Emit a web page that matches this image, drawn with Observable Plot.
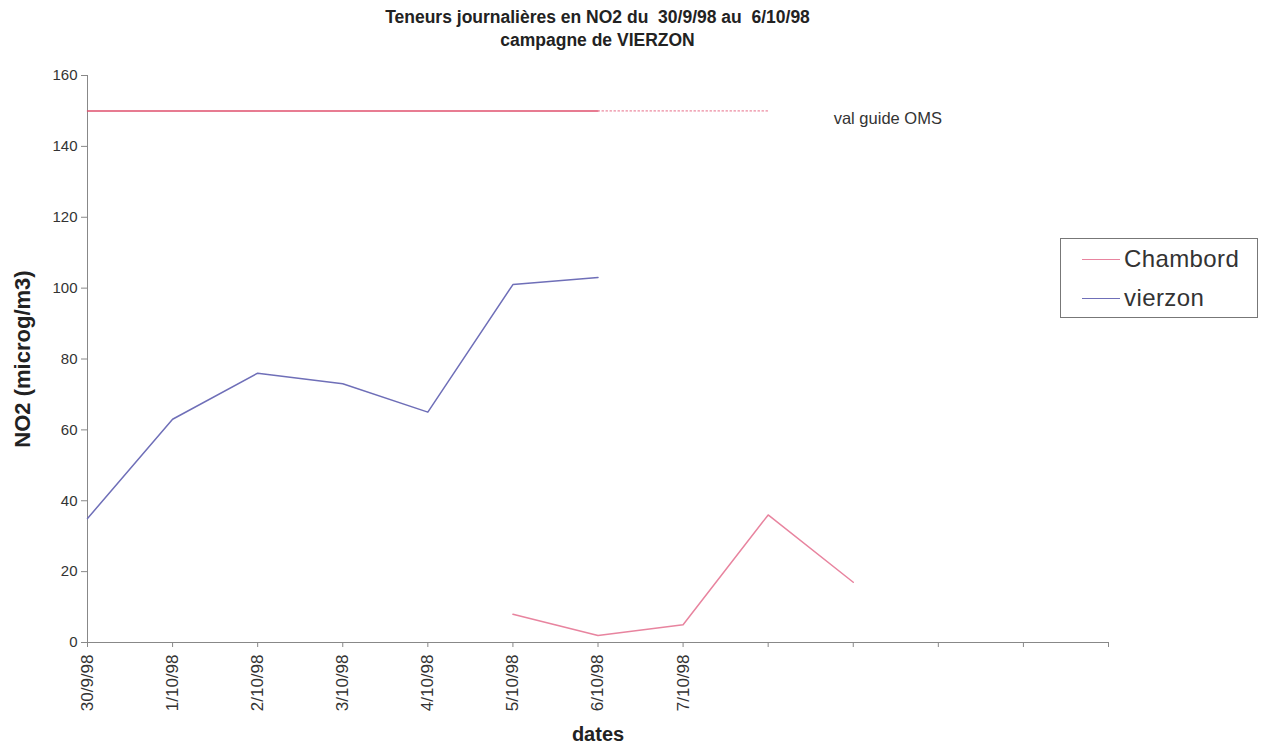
<!DOCTYPE html>
<html><head><meta charset="utf-8">
<script src="https://cdn.jsdelivr.net/npm/d3@7"></script>
<script src="https://cdn.jsdelivr.net/npm/@observablehq/plot@0.6"></script>
<style>
body{margin:0;background:#fff;font-family:"Liberation Sans",Arial,sans-serif;}
#wrap{position:relative;width:1263px;height:751px;overflow:hidden;}
#title{width:1195px;height:58px;text-align:center;font-weight:bold;font-size:17.5px;line-height:23px;color:#222;padding-top:6px;box-sizing:border-box;}
#legend{position:absolute;left:1060px;top:238px;width:198px;height:80px;border:1px solid #777;box-sizing:border-box;background:#fff;font-size:24px;letter-spacing:0.4px;color:#333;}
.item{position:absolute;left:21px;display:flex;align-items:center;line-height:28px;}
.swatch{width:38px;height:0;border-top:1.5px solid;margin-right:4px;}
</style></head>
<body>
<div id="wrap">
<div id="title">Teneurs journalières en NO2 du&nbsp; 30/9/98 au&nbsp; 6/10/98<br>campagne de VIERZON</div>
<div id="chart"></div>
<div id="legend">
  <div class="item" style="top:6px"><span class="swatch" style="border-color:#e8849f"></span>Chambord</div>
  <div class="item" style="top:45px"><span class="swatch" style="border-color:#6f6fb8"></span>vierzon</div>
</div>
</div>
<script>
const categories = ["30/9/98","1/10/98","2/10/98","3/10/98","4/10/98","5/10/98","6/10/98","7/10/98","","","","",""];
const vierzon = [35, 63, 76, 73, 65, 101, 103];
const chambord = [null, null, null, null, null, 8, 2, 5, 36, 17];
const guideValue = 150;
const guideSolidEnd = 6;
const guideDottedEnd = 8;
const yTicks = [0, 20, 40, 60, 80, 100, 120, 140, 160];

const vData = vierzon.map((v, i) => ({i, v}));
const cData = chambord.map((v, i) => ({i, v})).filter(d => d.v != null);
const gSolid = [{i: 0, v: guideValue}, {i: guideSolidEnd, v: guideValue}];
const gDot = [{i: guideSolidEnd, v: guideValue}, {i: guideDottedEnd, v: guideValue}];

const chart = Plot.plot({
  width: 1263,
  height: 693,
  marginLeft: 87,
  marginRight: 155,
  marginTop: 17,
  marginBottom: 109,
  style: {fontFamily: "'Liberation Sans', Arial, sans-serif", fontSize: "14px", color: "#333", background: "#fff"},
  x: {type: "linear", domain: [0, categories.length - 1]},
  y: {domain: [0, 160]},
  marks: [
    Plot.axisY({ticks: yTicks, tickSize: 6, tickPadding: 4, label: null, stroke: "#888", fontSize: 15}),
    Plot.axisX({ticks: d3.range(categories.length), tickFormat: i => categories[i], tickSize: 5, tickPadding: 7, tickRotate: -90, label: null, stroke: "#888", fontSize: 17}),
    Plot.ruleX([0], {stroke: "#888"}),
    Plot.ruleY([0], {stroke: "#888"}),
    Plot.line(gSolid, {x: "i", y: "v", stroke: "#e0506e", strokeWidth: 1.5}),
    Plot.line(gDot, {x: "i", y: "v", stroke: "#ec8aa0", strokeWidth: 1.2, strokeDasharray: "1.5,2.5"}),
    Plot.line(vData, {x: "i", y: "v", stroke: "#6f6fb8", strokeWidth: 1.5}),
    Plot.line(cData, {x: "i", y: "v", stroke: "#e8849f", strokeWidth: 1.5}),
    Plot.text(["val guide OMS"], {x: 8.77, y: guideValue, text: d => d, textAnchor: "start", dy: 8, fontSize: 16.5, fill: "#333"}),
    Plot.text(["NO2 (microg/m3)"], {frameAnchor: "left", textAnchor: "middle", text: d => d, rotate: -90, dx: -65, fontSize: 22, fontWeight: "bold", fill: "#222"}),
    Plot.text(["dates"], {frameAnchor: "bottom", text: d => d, dy: 98, fontSize: 20, fontWeight: "bold", fill: "#222"})
  ]
});
document.getElementById("chart").appendChild(chart);
</script>
</body></html>
